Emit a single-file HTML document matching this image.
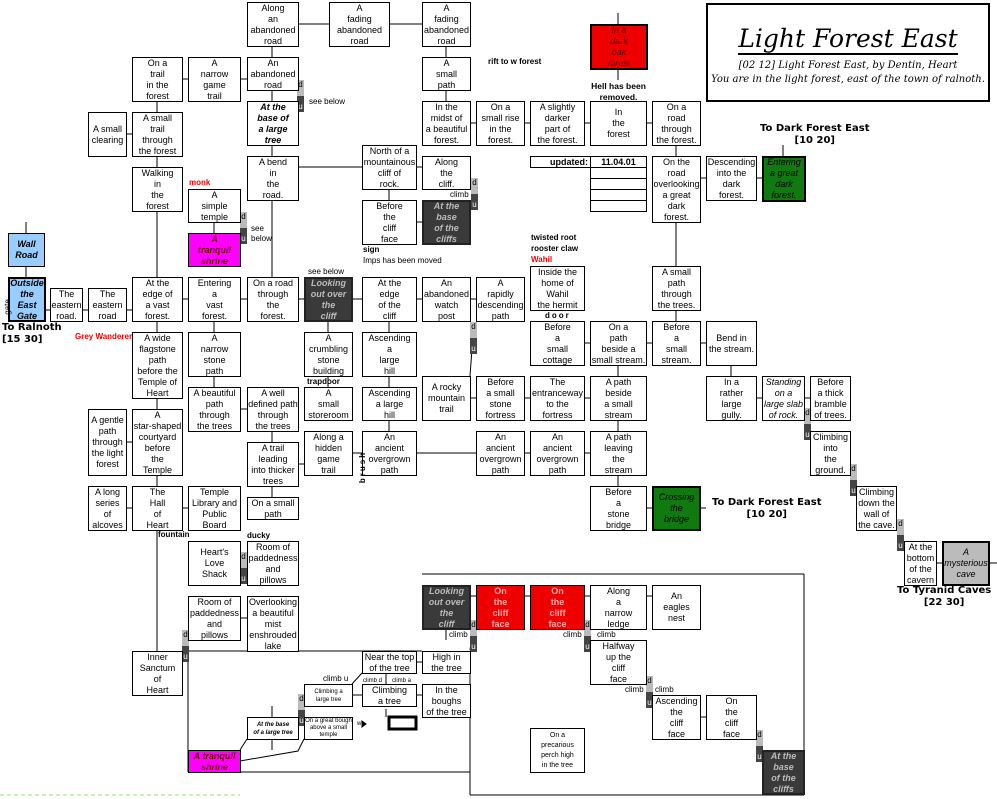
<!DOCTYPE html>
<html><head><meta charset="utf-8"><style>
body{margin:0;width:997px;height:799px;position:relative;background:#fff;overflow:hidden;font-family:"Liberation Sans",sans-serif;}
.b{position:absolute;box-sizing:border-box;border:1px solid #000;background:#fff;display:flex;align-items:center;justify-content:center;text-align:center;font-size:9px;line-height:11px;color:#000;overflow:hidden}
.k{background:#3a3a3a;color:#bbb;font-weight:bold;font-style:italic;border:2px solid #222}
.r{background:#e00;color:#f9b0b0;font-weight:bold}
.rs{background:#e00;color:#600;font-style:italic;border:2px solid #000}
.g{background:#107a10;color:#000;font-style:italic;border:2px solid #000}
.m{background:#f0f;color:#600;font-weight:bold;font-style:italic}
.lb{background:#9cf;font-weight:bold;font-style:italic;color:#000}
.bi{font-weight:bold;font-style:italic}
.t{position:absolute;font-size:8px;white-space:nowrap;line-height:10px}
.bt{position:absolute;font-size:10px;font-weight:bold;white-space:nowrap;text-align:center;line-height:12px;font-family:"DejaVu Sans",sans-serif}
.mk{position:absolute;width:7px;height:32px;}
.mk::before{content:"d";position:absolute;top:0;left:0;width:7px;height:16px;background:#bbb;font-size:8px;line-height:10px;text-align:center}
.mk::after{content:"u";position:absolute;top:16px;left:0;width:7px;height:16px;background:#444;color:#fff;font-size:8px;line-height:22px;text-align:center}
svg{position:absolute;left:0;top:0}
</style></head><body>
<svg width="997" height="799" stroke="#000" stroke-width="1" fill="none">
<path d="M298 24H329M389 24H422M272 46V57M446 46V57M182 79H188M240 79H247M157 101V112M272 90V101M446 90V101M126 134H132M157 156V167M272 145V156M298 167H362M416 167H422M389 189V200M416 222H422M157 211V277M214 222V233M272 200V277M26 222V233M26 266V277"/>
<path d="M45 310H50M82 310H88M126 310H132M182 299H188M240 299H247M298 299H304M352 299H362M416 299H422M470 299H476M157 321V332M214 321V332M328 321V332M389 321V332M157 398V409M214 376V387M240 409H247M328 376V387M389 376V387M389 420V431M470 398H476M524 398H530M584 398H590M474 322L470 376"/>
<path d="M584 343H590M646 343H652M700 343H706M618 365V376M618 420V431M618 475V486M646 508H652M700 508H706M416 453H476M524 453H530M584 453H590M298 464H304M352 453H362M272 431V442M272 486V497M126 442H132M157 475V486M126 508H132M182 508H188M157 530V651M240 618H247M240 563H247"/>
<path d="M470 123H476M524 123H530M584 123H590M646 123H652M676 145V156M700 178H706M756 178H762M783 145V156M618 13V24M618 69V80M676 222V266M676 310V321M731 365V376M756 398H762M804 398H810M936 563H942M989 563H997"/>
<path d="M188 651H422M188 651V772M188 772H470M422 574H804M804 574V750M470 651V795M470 795H804M470 596H476M524 596H530M584 596H590M646 596H652M700 717H706M416 662H422M386 673V684M416 695H422M352 695H362M352 684L362 673M272 706V717M272 739V750M240 750L247 739M240 761L298 751L304 739M301 706L326 698M446 629V640M386 709V717"/>
<path d="M185 630L182 660M243 552L240 585M300 80L297 112M243 212L240 244M474 178L471 210M587 622L592 650M649 678L654 706M759 732L764 760M807 410L812 440M853 466L858 496M900 521L905 551M474 622L470 650"/>
<rect x="389" y="717" width="27" height="12" stroke-width="3"/>
<path d="M0 795H240" stroke="#9d7" stroke-dasharray="4 3"/>
<path d="M362 721L366 724L362 727Z" fill="#000"/>
</svg>
<div class="mk" style="left:182px;top:630px"></div><div class="mk" style="left:240px;top:552px"></div><div class="mk" style="left:297px;top:80px"></div><div class="mk" style="left:240px;top:212px"></div><div class="mk" style="left:471px;top:178px"></div><div class="mk" style="left:584px;top:620px"></div><div class="mk" style="left:646px;top:676px"></div><div class="mk" style="left:756px;top:730px"></div><div class="mk" style="left:804px;top:408px"></div><div class="mk" style="left:850px;top:464px"></div><div class="mk" style="left:897px;top:519px"></div><div class="mk" style="left:470px;top:620px"></div><div class="mk" style="left:298px;top:694px"></div><div class="mk" style="left:470px;top:322px;height:54px"></div>

<div class="b" style="left:247px;top:2px;width:52px;height:45px">Along<br>an<br>abandoned<br>road</div>
<div class="b" style="left:329px;top:2px;width:61px;height:45px">A<br>fading<br>abandoned<br>road</div>
<div class="b" style="left:422px;top:2px;width:49px;height:45px">A<br>fading<br>abandoned<br>road</div>
<div class="b" style="left:132px;top:57px;width:51px;height:45px">On a<br>trail<br>in the<br>forest</div>
<div class="b" style="left:188px;top:57px;width:53px;height:45px">A<br>narrow<br>game<br>trail</div>
<div class="b" style="left:247px;top:57px;width:52px;height:34px">An<br>abandoned<br>road</div>
<div class="b" style="left:422px;top:57px;width:49px;height:34px">A<br>small<br>path</div>
<div class="b bi" style="left:247px;top:101px;width:52px;height:45px">At the<br>base of<br>a large<br>tree</div>
<div class="b" style="left:422px;top:101px;width:49px;height:45px">In the<br>midst of<br>a beautiful<br>forest.</div>
<div class="b" style="left:476px;top:101px;width:49px;height:45px">On a<br>small rise<br>in the<br>forest.</div>
<div class="b" style="left:530px;top:101px;width:55px;height:45px">A slightly<br>darker<br>part of<br>the forest.</div>
<div class="b" style="left:590px;top:101px;width:57px;height:45px">In<br>the<br>forest</div>
<div class="b" style="left:652px;top:101px;width:49px;height:45px">On a<br>road<br>through<br>the forest.</div>
<div class="b" style="left:88px;top:112px;width:39px;height:45px">A small<br>clearing</div>
<div class="b" style="left:132px;top:112px;width:51px;height:45px">A small<br>trail<br>through<br>the forest</div>
<div class="b" style="left:247px;top:156px;width:52px;height:45px">A bend<br>in<br>the<br>road.</div>
<div class="b" style="left:362px;top:145px;width:55px;height:45px">North of a<br>mountainous<br>cliff of<br>rock.</div>
<div class="b" style="left:422px;top:156px;width:49px;height:34px">Along<br>the<br>cliff.</div>
<div class="b" style="left:132px;top:167px;width:51px;height:45px">Walking<br>in<br>the<br>forest</div>
<div class="b" style="left:188px;top:189px;width:53px;height:34px">A<br>simple<br>temple</div>
<div class="b" style="left:362px;top:200px;width:55px;height:45px">Before<br>the<br>cliff<br>face</div>
<div class="b k" style="left:422px;top:200px;width:49px;height:45px">At the<br>base<br>of the<br>cliffs</div>
<div class="b lb" style="left:8px;top:233px;width:37px;height:34px">Wall<br>Road</div>
<div class="b m" style="left:188px;top:233px;width:53px;height:34px">A<br>tranquil<br>shrine</div>
<div class="b lb" style="left:8px;top:277px;width:38px;height:45px;border:2px solid #000">Outside<br>the<br>East<br>Gate</div>
<div class="b" style="left:50px;top:288px;width:33px;height:34px">The<br>eastern<br>road.</div>
<div class="b" style="left:88px;top:288px;width:39px;height:34px">The<br>eastern<br>road</div>
<div class="b" style="left:132px;top:277px;width:51px;height:45px">At the<br>edge of<br>a vast<br>forest.</div>
<div class="b" style="left:188px;top:277px;width:53px;height:45px">Entering<br>a<br>vast<br>forest.</div>
<div class="b" style="left:247px;top:277px;width:52px;height:45px">On a road<br>through<br>the<br>forest.</div>
<div class="b k" style="left:304px;top:277px;width:49px;height:45px">Looking<br>out over<br>the<br>cliff</div>
<div class="b" style="left:362px;top:277px;width:55px;height:45px">At the<br>edge<br>of the<br>cliff</div>
<div class="b" style="left:422px;top:277px;width:49px;height:45px">An<br>abandoned<br>watch<br>post</div>
<div class="b" style="left:476px;top:277px;width:49px;height:45px">A<br>rapidly<br>descending<br>path</div>
<div class="b" style="left:132px;top:332px;width:51px;height:67px">A wide<br>flagstone<br>path<br>before the<br>Temple of<br>Heart</div>
<div class="b" style="left:188px;top:332px;width:53px;height:45px">A<br>narrow<br>stone<br>path</div>
<div class="b" style="left:304px;top:332px;width:49px;height:45px">A<br>crumbling<br>stone<br>building</div>
<div class="b" style="left:362px;top:332px;width:55px;height:45px">Ascending<br>a<br>large<br>hill</div>
<div class="b" style="left:422px;top:376px;width:49px;height:45px">A rocky<br>mountain<br>trail</div>
<div class="b" style="left:476px;top:376px;width:49px;height:45px">Before<br>a small<br>stone<br>fortress</div>
<div class="b" style="left:530px;top:376px;width:55px;height:45px">The<br>entranceway<br>to the<br>fortress</div>
<div class="b" style="left:590px;top:376px;width:57px;height:45px">A path<br>beside<br>a small<br>stream</div>
<div class="b" style="left:188px;top:387px;width:53px;height:45px">A beautiful<br>path<br>through<br>the trees</div>
<div class="b" style="left:247px;top:387px;width:52px;height:45px">A well<br>defined path<br>through<br>the trees</div>
<div class="b" style="left:304px;top:387px;width:49px;height:34px">A<br>small<br>storeroom</div>
<div class="b" style="left:362px;top:387px;width:55px;height:34px">Ascending<br>a large<br>hill</div>
<div class="b" style="left:706px;top:376px;width:51px;height:45px">In a<br>rather<br>large<br>gully.</div>
<div class="b" style="left:762px;top:376px;width:43px;height:45px;font-style:italic">Standing<br>on a<br>large slab<br>of rock.</div>
<div class="b" style="left:810px;top:376px;width:41px;height:45px">Before<br>a thick<br>bramble<br>of trees.</div>
<div class="b" style="left:88px;top:409px;width:39px;height:67px">A gentle<br>path<br>through<br>the light<br>forest</div>
<div class="b" style="left:132px;top:409px;width:51px;height:67px">A<br>star-shaped<br>courtyard<br>before<br>the<br>Temple</div>
<div class="b" style="left:247px;top:442px;width:52px;height:45px">A trail<br>leading<br>into thicker<br>trees</div>
<div class="b" style="left:304px;top:431px;width:49px;height:45px">Along a<br>hidden<br>game<br>trail</div>
<div class="b" style="left:362px;top:431px;width:55px;height:45px">An<br>ancient<br>overgrown<br>path</div>
<div class="b" style="left:476px;top:431px;width:49px;height:45px">An<br>ancient<br>overgrown<br>path</div>
<div class="b" style="left:530px;top:431px;width:55px;height:45px">An<br>ancient<br>overgrown<br>path</div>
<div class="b" style="left:590px;top:431px;width:57px;height:45px">A path<br>leaving<br>the<br>stream</div>
<div class="b" style="left:810px;top:431px;width:41px;height:45px">Climbing<br>into<br>the<br>ground.</div>
<div class="b" style="left:88px;top:486px;width:39px;height:45px">A long<br>series<br>of<br>alcoves</div>
<div class="b" style="left:132px;top:486px;width:51px;height:45px">The<br>Hall<br>of<br>Heart</div>
<div class="b" style="left:188px;top:486px;width:53px;height:45px">Temple<br>Library and<br>Public<br>Board</div>
<div class="b" style="left:247px;top:497px;width:52px;height:23px">On a small<br>path</div>
<div class="b" style="left:590px;top:486px;width:57px;height:45px">Before<br>a<br>stone<br>bridge</div>
<div class="b g" style="left:652px;top:486px;width:49px;height:45px">Crossing<br>the<br>bridge</div>
<div class="b" style="left:856px;top:486px;width:41px;height:45px">Climbing<br>down the<br>wall of<br>the cave.</div>
<div class="b" style="left:188px;top:541px;width:53px;height:45px">Heart's<br>Love<br>Shack</div>
<div class="b" style="left:247px;top:541px;width:52px;height:45px">Room of<br>paddedness<br>and<br>pillows</div>
<div class="b" style="left:904px;top:541px;width:33px;height:45px">At the<br>bottom<br>of the<br>cavern</div>
<div class="b" style="left:942px;top:541px;width:48px;height:45px;background:#bbb;border:2px solid #000;font-style:italic">A<br>mysterious<br>cave</div>
<div class="b" style="left:188px;top:596px;width:53px;height:45px">Room of<br>paddedness<br>and<br>pillows</div>
<div class="b" style="left:247px;top:596px;width:52px;height:56px">Overlooking<br>a beautiful<br>mist<br>enshrouded<br>lake</div>
<div class="b" style="left:132px;top:651px;width:51px;height:45px">Inner<br>Sanctum<br>of<br>Heart</div>
<div class="b k" style="left:422px;top:585px;width:49px;height:45px">Looking<br>out over<br>the<br>cliff</div>
<div class="b r" style="left:476px;top:585px;width:49px;height:45px">On<br>the<br>cliff<br>face</div>
<div class="b r" style="left:530px;top:585px;width:55px;height:45px">On<br>the<br>cliff<br>face</div>
<div class="b" style="left:590px;top:585px;width:57px;height:45px">Along<br>a<br>narrow<br>ledge</div>
<div class="b" style="left:652px;top:585px;width:49px;height:45px">An<br>eagles<br>nest</div>
<div class="b" style="left:590px;top:640px;width:57px;height:45px">Halfway<br>up the<br>cliff<br>face</div>
<div class="b" style="left:652px;top:695px;width:49px;height:45px">Ascending<br>the<br>cliff<br>face</div>
<div class="b" style="left:706px;top:695px;width:51px;height:45px">On<br>the<br>cliff<br>face</div>
<div class="b" style="left:530px;top:728px;width:55px;height:45px;font-size:7px;line-height:10px">On a<br>precarious<br>perch high<br>in the tree</div>
<div class="b k" style="left:762px;top:750px;width:43px;height:45px">At the<br>base<br>of the<br>cliffs</div>
<div class="b" style="left:362px;top:651px;width:55px;height:23px">Near the top<br>of the tree</div>
<div class="b" style="left:422px;top:651px;width:49px;height:23px">High in<br>the tree</div>
<div class="b" style="left:304px;top:684px;width:49px;height:23px;font-size:6px;line-height:8px">Climbing a<br>large tree</div>
<div class="b" style="left:362px;top:684px;width:55px;height:23px">Climbing<br>a tree</div>
<div class="b" style="left:422px;top:684px;width:49px;height:34px">In the<br>boughs<br>of the tree</div>
<div class="b bi" style="left:247px;top:717px;width:52px;height:23px;font-size:6px;line-height:8px">At the base<br>of a large tree</div>
<div class="b" style="left:304px;top:717px;width:49px;height:23px;font-size:6px;line-height:7px">On a great bough<br>above a small<br>temple</div>
<div class="b m" style="left:188px;top:750px;width:53px;height:23px">A tranquil<br>shrine</div>
<div class="b rs" style="left:590px;top:24px;width:58px;height:46px">In a<br>dark<br>oak<br>forest</div>
<div class="b" style="left:652px;top:156px;width:49px;height:67px">On the<br>road<br>overlooking<br>a great<br>dark<br>forest.</div>
<div class="b" style="left:706px;top:156px;width:51px;height:45px">Descending<br>into the<br>dark<br>forest.</div>
<div class="b g" style="left:762px;top:156px;width:44px;height:46px">Entering<br>a great<br>dark<br>forest.</div>
<div class="b" style="left:530px;top:266px;width:55px;height:45px">Inside the<br>home of<br>Wahil<br>the hermit</div>
<div class="b" style="left:652px;top:266px;width:49px;height:45px">A small<br>path<br>through<br>the trees.</div>
<div class="b" style="left:530px;top:321px;width:55px;height:45px">Before<br>a<br>small<br>cottage</div>
<div class="b" style="left:590px;top:321px;width:57px;height:45px">On a<br>path<br>beside a<br>small stream.</div>
<div class="b" style="left:652px;top:321px;width:49px;height:45px">Before<br>a<br>small<br>stream.</div>
<div class="b" style="left:706px;top:321px;width:51px;height:45px">Bend in<br>the stream.</div>
<div class="b" style="left:530px;top:156px;width:61px;height:12px;font-weight:bold;justify-content:flex-end;padding-right:2px">updated:</div>
<div class="b" style="left:590px;top:156px;width:57px;height:12px;font-weight:bold">11.04.01</div>
<div class="b" style="left:590px;top:167px;width:57px;height:12px"></div>
<div class="b" style="left:590px;top:178px;width:57px;height:12px"></div>
<div class="b" style="left:590px;top:189px;width:57px;height:12px"></div>
<div class="b" style="left:590px;top:200px;width:57px;height:12px"></div>

<div style="position:absolute;left:706px;top:3px;width:284px;height:99px;box-sizing:border-box;border:2px solid #000;text-align:center;font-family:'DejaVu Serif',serif;font-style:italic">
<div style="font-size:25px;line-height:28px;margin-top:20px"><span style="border-bottom:2px solid #000">Light Forest East</span></div>
<div style="font-size:10px;line-height:14px;margin-top:6px">[02 12] Light Forest East, by Dentin, Heart</div>
<div style="font-size:10px;line-height:14px;white-space:nowrap">You are in the light forest, east of the town of ralnoth.</div>
</div>

<div class="t" style="left:309px;top:97px">see below</div>
<div class="t" style="left:488px;top:57px;font-weight:bold">rift to w forest</div>
<div class="t" style="left:590px;top:81px;width:57px;text-align:center;white-space:normal;font-weight:bold;font-size:8.5px;line-height:11px">Hell has been removed.</div>
<div class="t" style="left:189px;top:178px;color:#e00;font-weight:bold">monk</div>
<div class="t" style="left:251px;top:224px">see<br>below</div>
<div class="t" style="left:450px;top:190px">climb</div>
<div class="t" style="left:363px;top:245px;font-weight:bold">sign</div>
<div class="t" style="left:363px;top:256px">Imps has been moved</div>
<div class="t" style="left:308px;top:267px">see below</div>
<div class="t" style="left:531px;top:233px;font-weight:bold">twisted root</div>
<div class="t" style="left:531px;top:244px;font-weight:bold">rooster claw</div>
<div class="t" style="left:531px;top:255px;color:#e00;font-weight:bold">Wahil</div>
<div class="t" style="left:545px;top:311px;font-weight:bold;letter-spacing:2px">door</div>
<div class="t" style="left:75px;top:332px;color:#e00;font-weight:bold">Grey Wanderer</div>
<div class="t" style="left:0px;top:302px;transform:rotate(-90deg);font-size:8px">gate</div>
<div class="t" style="left:307px;top:377px;font-weight:bold">trapdoor</div>
<div class="t" style="left:347px;top:462px;transform:rotate(-90deg);letter-spacing:2px;font-weight:bold">brush</div>
<div class="t" style="left:158px;top:530px;font-weight:bold">fountain</div>
<div class="t" style="left:247px;top:531px;font-weight:bold">ducky</div>
<div class="t" style="left:323px;top:674px">climb u</div>
<div class="t" style="left:363px;top:676px;font-size:6px">climb d</div>
<div class="t" style="left:392px;top:676px;font-size:6px">climb a</div>
<div class="t" style="left:449px;top:630px">climb</div>
<div class="t" style="left:563px;top:630px">climb</div>
<div class="t" style="left:597px;top:630px">climb</div>
<div class="t" style="left:625px;top:685px">climb</div>
<div class="t" style="left:655px;top:685px">climb</div>
<div class="t" style="left:357px;top:719px;font-size:6px">w</div>
<div class="bt" style="left:2px;top:322px;text-align:left">To Ralnoth<br>[15 30]</div>
<div class="bt" style="left:760px;top:123px">To Dark Forest East<br>[10 20]</div>
<div class="bt" style="left:712px;top:497px">To Dark Forest East<br>[10 20]</div>
<div class="bt" style="left:897px;top:585px">To Tyranid Caves<br>[22 30]</div>
</body></html>
